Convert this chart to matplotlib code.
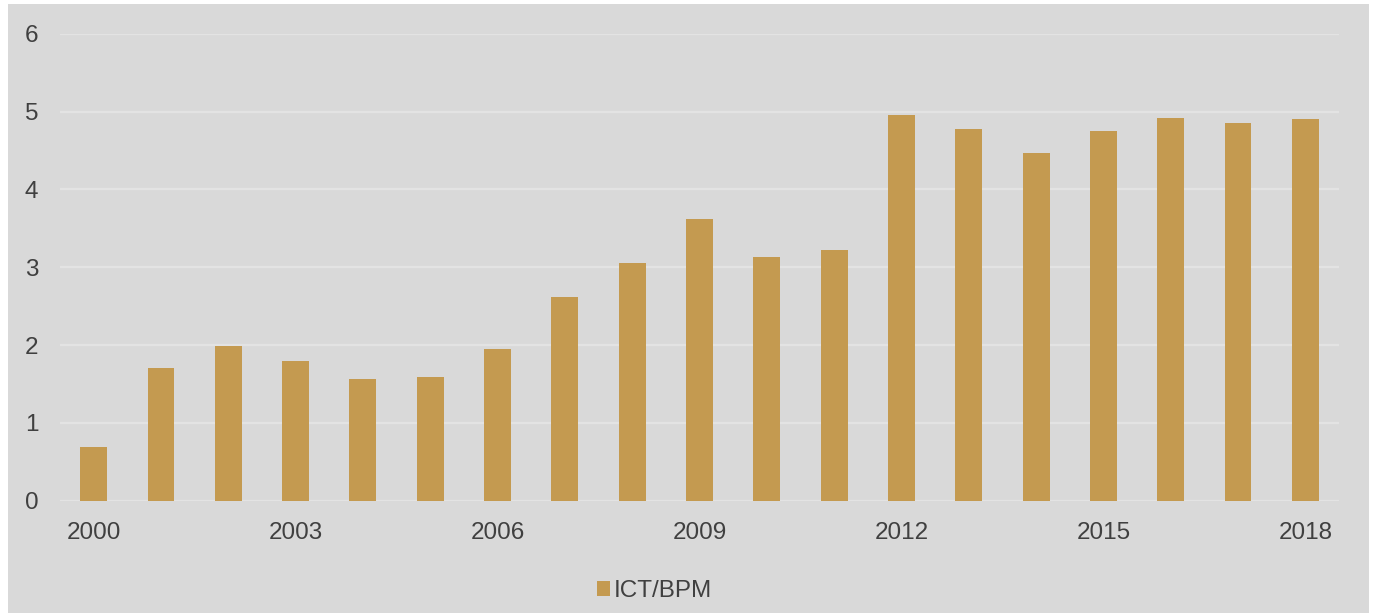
import matplotlib.pyplot as plt
import matplotlib.patches as mpatches
import numpy as np

# ICT/BPM series, 2000-2018
years = list(range(2000, 2019))
ict_bpm = [0.69, 1.71, 1.99, 1.79, 1.56, 1.59, 1.95, 2.62, 3.06, 3.62,
           3.13, 3.22, 4.96, 4.77, 4.47, 4.75, 4.92, 4.85, 4.91]
tick_years = [2000, 2003, 2006, 2009, 2012, 2015, 2018]
y_ticks = [0, 1, 2, 3, 4, 5, 6]

bar_color = '#c49a50'
panel_color = '#d9d9d9'
grid_color = '#e3e3e3'
text_color = '#404040'

plt.rcParams['font.family'] = ['Liberation Sans', 'DejaVu Sans']

W, H = 1374, 613
fig = plt.figure(figsize=(W / 100, H / 100), dpi=100)
fig.patch.set_facecolor('white')

# grey panel behind the chart
fig.add_artist(mpatches.Rectangle((8 / W, 0), (1369 - 8) / W, (H - 4) / H,
                                  transform=fig.transFigure,
                                  facecolor=panel_color, edgecolor='none',
                                  zorder=0))

ax = fig.add_axes([60 / W, 1 - 500.7 / H, (1339 - 60) / W, (500.7 - 33.7) / H])
ax.set_facecolor('none')

x = np.arange(len(years))
ax.bar(x, ict_bpm, width=0.4, color=bar_color, zorder=3, label='ICT/BPM')

ax.set_xlim(-0.5, len(years) - 0.5)
ax.set_ylim(0, 6)
ax.set_yticks(y_ticks)
ax.set_yticklabels([str(v) for v in y_ticks])
ax.set_xticks([years.index(y) for y in tick_years])
ax.set_xticklabels([str(y) for y in tick_years])

ax.yaxis.grid(True, color=grid_color, linewidth=1.6, zorder=1)
ax.tick_params(axis='both', length=0, labelsize=17.5, labelcolor=text_color)
ax.tick_params(axis='x', pad=15.5)
ax.tick_params(axis='y', pad=15.5)
for s in ax.spines.values():
    s.set_visible(False)

fig.legend(loc='center left', bbox_to_anchor=(597 / W, 1 - 591 / H),
           frameon=False, fontsize=17.5, labelcolor=text_color,
           handlelength=0.55, handleheight=0.55, handletextpad=0.15,
           borderpad=0, borderaxespad=0)

fig.savefig('out.png', dpi=100)
